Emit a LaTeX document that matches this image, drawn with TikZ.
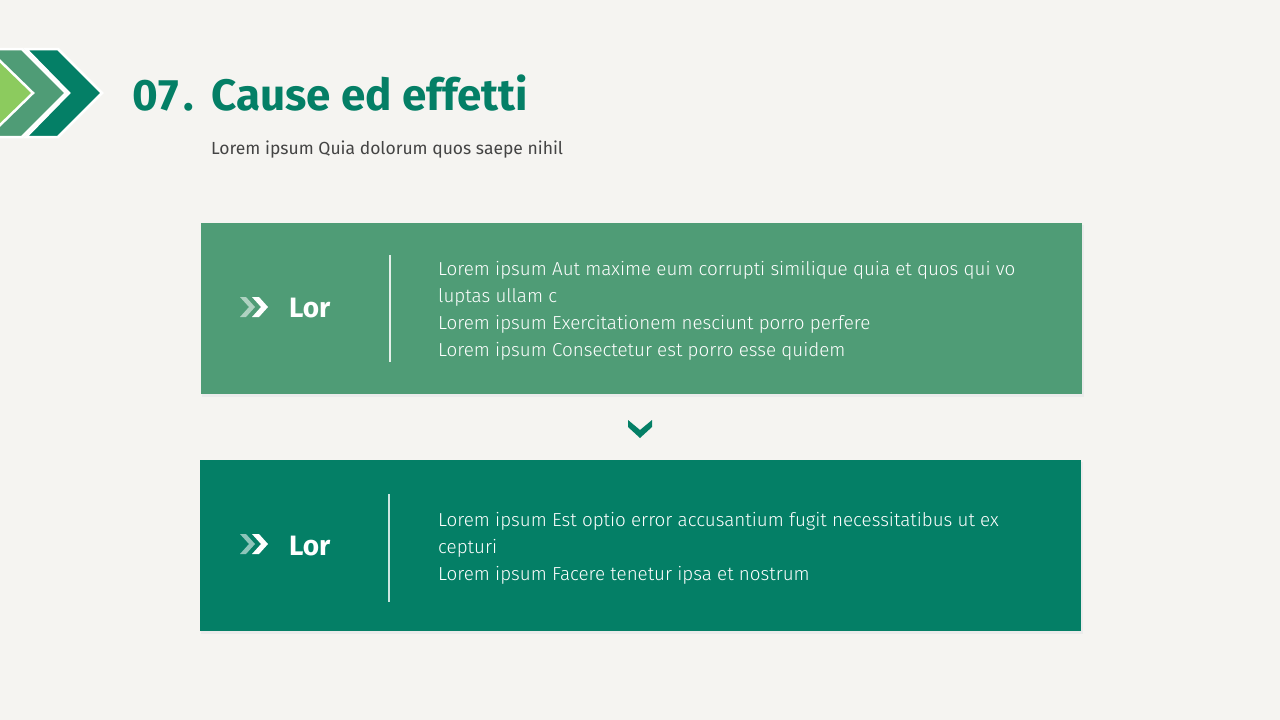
\documentclass[tikz,border=0pt]{standalone}
\usepackage{fontspec}
\setmainfont{Fira Sans}
\newfontfamily\lightfont{Fira Sans Light}
\definecolor{bg}{HTML}{F5F4F1}
\definecolor{dkgreen}{HTML}{047F66}
\definecolor{mdgreen}{HTML}{4F9C76}
\definecolor{ltgreen}{HTML}{8CCB5E}
\definecolor{subgray}{HTML}{444444}
\tikzset{
  boxa/.style={fill=mdgreen, draw=none},
  boxb/.style={fill=dkgreen, draw=none},
  shadowbox/.style={fill=black!8, draw=none},
  divider/.style={draw=white!85!mdgreen, line width=1.6pt},
  body/.style={anchor=base west, inner sep=0, text=white, font=\lightfont\fontsize{18.8}{20}\selectfont},
  lor/.style={anchor=base west, inner sep=0, text=white, font=\fontsize{28}{32}\selectfont\bfseries},
  chev/.style={fill=white, draw=none},
  chevfaint/.style={fill=white, fill opacity=0.55, draw=none},
}
\begin{document}
\begin{tikzpicture}[x=1pt,y=-1pt]
\useasboundingbox (0,0) rectangle (1280,720);
\fill[bg] (0,0) rectangle (1280,720);

% top-left chevrons
\fill[dkgreen, draw=white, line width=2.5pt, line join=miter] (26,49) -- (58,49) -- (102,93) -- (58,137) -- (26,137) -- (69,93) -- cycle;
\fill[mdgreen, draw=white, line width=2.5pt] (-30,49) -- (22,49) -- (66,93) -- (22,137) -- (-30,137) -- cycle;
\fill[ltgreen, draw=white, line width=2.5pt] (-30,57) -- (-4,57) -- (33,93) -- (-4,129) -- (-30,129) -- cycle;

% title
\node[anchor=base west, inner sep=0, text=dkgreen, font=\fontsize{44}{48}\selectfont\bfseries] (num) at (132,110) {0\kern1pt7\kern4pt.};
\node[anchor=base west, inner sep=0, text=dkgreen, font=\fontsize{44}{48}\selectfont\bfseries] (title) at (211,110) {Cause ed effetti};
\node[anchor=base west, inner sep=0, text=subgray, font=\fontsize{17.5}{20}\selectfont] (sub) at (211,154) {Lorem ipsum Quia dolorum quos saepe nihil};

% box 1
\fill[shadowbox] (202,225) rectangle (1084,397);
\node[boxa, minimum width=881pt, minimum height=171pt, inner sep=0, anchor=north west] (b1) at (201,223) {};
\draw[divider] (390,255) -- (390,362);
\fill[chevfaint] (240,297) -- (246,297) -- (255,307) -- (246,317) -- (240,317) -- (249,307) -- cycle;
\fill[chev] (252,297) -- (259,297) -- (268,307) -- (259,317) -- (252,317) -- (261,307) -- cycle;
\node[lor] (l1) at (289,317) {Lor};
\node[body] (t11) at (438,275) {Lorem ipsum Aut maxime eum corrupti similique quia et quos qui vo};
\node[body] (t12) at (438,302) {luptas ullam c};
\node[body] (t13) at (438,329) {Lorem ipsum Exercitationem nesciunt porro perfere};
\node[body] (t14) at (438,356) {Lorem ipsum Consectetur est porro esse quidem};

% down arrow
\fill[dkgreen] (628,420) -- (640,430) -- (652,420) -- (652,427) -- (640,438) -- (628,427) -- cycle;

% box 2
\fill[shadowbox] (201,462) rectangle (1083,634);
\node[boxb, minimum width=881pt, minimum height=171pt, inner sep=0, anchor=north west] (b2) at (200,460) {};
\draw[divider, draw=white!80!dkgreen] (389,494) -- (389,602);
\fill[chevfaint] (240,534) -- (246,534) -- (255,544) -- (246,554) -- (240,554) -- (249,544) -- cycle;
\fill[chev] (252,534) -- (259,534) -- (268,544) -- (259,554) -- (252,554) -- (261,544) -- cycle;
\node[lor] (l2) at (289,555) {Lor};
\node[body] (t21) at (438,526) {Lorem ipsum Est optio error accusantium fugit necessitatibus ut ex};
\node[body] (t22) at (438,553) {cepturi};
\node[body] (t23) at (438,580) {Lorem ipsum Facere tenetur ipsa et nostrum};
\end{tikzpicture}
\end{document}
